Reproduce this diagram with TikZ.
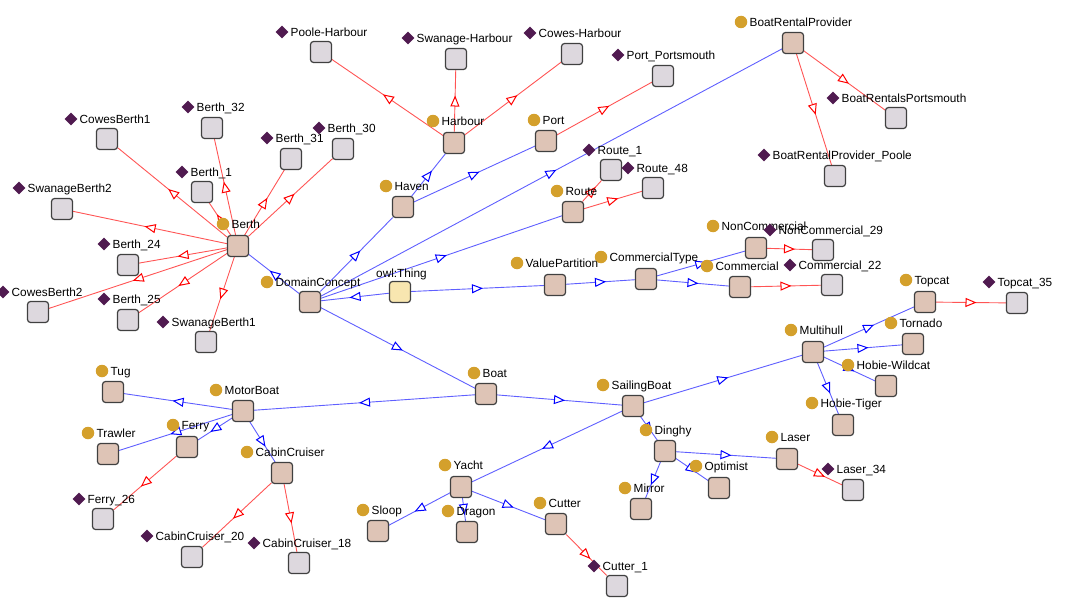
\documentclass[tikz,border=0pt]{standalone}
\usepackage{fontspec}
\setmainfont{Liberation Sans}
\usetikzlibrary{arrows.meta,shapes.geometric,decorations.markings}

\definecolor{classfill}{RGB}{222,196,182}
\definecolor{indivfill}{RGB}{221,216,222}
\definecolor{thingfill}{RGB}{248,230,176}
\definecolor{boxborder}{RGB}{64,64,64}
\definecolor{clsgold}{RGB}{212,160,44}
\definecolor{indpurple}{RGB}{80,26,80}
\definecolor{isaline}{RGB}{95,95,255}
\definecolor{isatip}{RGB}{0,0,255}
\definecolor{instline}{RGB}{255,85,85}
\definecolor{insttip}{RGB}{255,0,0}

\pgfdeclarelayer{background}
\pgfsetlayers{background,main}

\tikzset{
  classbox/.style={draw=boxborder, line width=1.2pt, fill=classfill,
    rounded corners=3pt, minimum size=21pt, inner sep=0pt, outer sep=0pt},
  indivbox/.style={classbox, fill=indivfill},
  thingbox/.style={classbox, fill=thingfill},
  clsicon/.style={circle, fill=clsgold, minimum size=12.5pt, inner sep=0pt},
  indicon/.style={diamond, fill=indpurple, minimum width=13pt, minimum height=13pt, inner sep=0pt},
  lbl/.style={anchor=base west, inner sep=0pt, font=\fontsize{11.8}{14}\selectfont},
  isa/.style={draw=isaline, line width=0.9pt,
    decoration={markings, mark=at position 0.5 with
      {\arrow[xshift=5.5pt, line width=1pt]{Triangle[color=isatip, fill=white, length=11pt, width=9pt]}}},
    postaction={decorate}},
  inst/.style={draw=instline, line width=0.9pt,
    decoration={markings, mark=at position 0.5 with
      {\arrow[xshift=5.5pt, line width=1pt]{Triangle[color=insttip, fill=white, length=11pt, width=9pt]}}},
    postaction={decorate}},
}

% #1 name, #2/#3 box centre, #4 label, #5/#6 icon centre
\newcommand\ontoclass[6]{%
  \node[classbox] (#1) at (#2,#3) {};
  \node[clsicon] (#1i) at (#5,#6) {};
  \node[lbl, xshift=8.5pt, yshift=-4.2pt] (#1l) at (#5,#6) {#4};
}
\newcommand\ontoindiv[6]{%
  \node[indivbox] (#1) at (#2,#3) {};
  \node[indicon] (#1i) at (#5,#6) {};
  \node[lbl, xshift=8.5pt, yshift=-4.2pt] (#1l) at (#5,#6) {#4};
}

\begin{document}
\begin{tikzpicture}[x=1pt, y=-1pt]
\useasboundingbox (0,0) rectangle (1082,602);

% root
\node[thingbox] (Thing) at (400,292) {};
\node[lbl] (Thingl) at (376,277) {owl:Thing};

% classes
\ontoclass{DomainConcept}{310}{302}{DomainConcept}{267}{282}
\ontoclass{Berth}{238}{246}{Berth}{223}{224}
\ontoclass{Haven}{403}{207}{Haven}{386}{186}
\ontoclass{Harbour}{454}{143}{Harbour}{433}{121}
\ontoclass{Port}{546}{141}{Port}{534}{120}
\ontoclass{Route}{573}{212}{Route}{557}{191}
\ontoclass{BoatRentalProvider}{793}{43}{BoatRentalProvider}{741}{22}
\ontoclass{ValuePartition}{555}{285}{ValuePartition}{517}{263}
\ontoclass{CommercialType}{646}{279}{CommercialType}{601}{257}
\ontoclass{NonCommercial}{756}{248}{NonCommercial}{713}{226}
\ontoclass{Commercial}{740}{287}{Commercial}{707}{266}
\ontoclass{Boat}{486}{394}{Boat}{474}{373}
\ontoclass{MotorBoat}{243}{411}{MotorBoat}{216}{390}
\ontoclass{SailingBoat}{633}{406}{SailingBoat}{603}{385}
\ontoclass{Tug}{113}{392}{Tug}{102}{371}
\ontoclass{Ferry}{187}{447}{Ferry}{173}{425}
\ontoclass{Trawler}{108}{454}{Trawler}{88}{433}
\ontoclass{CabinCruiser}{282}{473}{CabinCruiser}{247}{452}
\ontoclass{Multihull}{813}{352}{Multihull}{791}{330}
\ontoclass{Topcat}{925}{302}{Topcat}{906}{280}
\ontoclass{Tornado}{913}{344}{Tornado}{891}{323}
\ontoclass{HobieWildcat}{886}{386}{Hobie-Wildcat}{848}{365}
\ontoclass{HobieTiger}{843}{425}{Hobie-Tiger}{812}{403}
\ontoclass{Yacht}{461}{487}{Yacht}{445}{465}
\ontoclass{Sloop}{378}{531}{Sloop}{363}{510}
\ontoclass{Dragon}{467}{532}{Dragon}{448}{511}
\ontoclass{Cutter}{556}{524}{Cutter}{540}{503}
\ontoclass{Dinghy}{665}{451}{Dinghy}{646}{430}
\ontoclass{Laser}{787}{459}{Laser}{772}{437}
\ontoclass{Optimist}{719}{488}{Optimist}{696}{466}
\ontoclass{Mirror}{641}{509}{Mirror}{625}{488}

% individuals
\ontoindiv{PooleHarbour}{321}{52}{Poole-Harbour}{282}{32}
\ontoindiv{SwanageHarbour}{456}{59}{Swanage-Harbour}{408}{38}
\ontoindiv{CowesHarbour}{572}{54}{Cowes-Harbour}{530}{33}
\ontoindiv{PortPortsmouth}{663}{76}{Port\_Portsmouth}{618}{55}
\ontoindiv{BoatRentalsPortsmouth}{896}{118}{BoatRentalsPortsmouth}{833}{98}
\ontoindiv{BoatRentalProviderPoole}{835}{176}{BoatRentalProvider\_Poole}{764}{155}
\ontoindiv{CowesBerthA}{107}{139}{CowesBerth1}{71}{119}
\ontoindiv{BerthXXXII}{212}{128}{Berth\_32}{188}{107}
\ontoindiv{BerthXXXI}{291}{159}{Berth\_31}{267}{138}
\ontoindiv{BerthXXX}{343}{149}{Berth\_30}{319}{128}
\ontoindiv{BerthI}{202}{192}{Berth\_1}{182}{172}
\ontoindiv{SwanageBerthB}{62}{209}{SwanageBerth2}{19}{188}
\ontoindiv{BerthXXIV}{128}{265}{Berth\_24}{104}{244}
\ontoindiv{CowesBerthB}{38}{312}{CowesBerth2}{3}{292}
\ontoindiv{BerthXXV}{128}{320}{Berth\_25}{104}{299}
\ontoindiv{SwanageBerthA}{206}{342}{SwanageBerth1}{163}{322}
\ontoindiv{RouteI}{611}{170}{Route\_1}{589}{150}
\ontoindiv{RouteXLVIII}{653}{188}{Route\_48}{628}{168}
\ontoindiv{NonCommercialXXIX}{823}{250}{NonCommercial\_29}{770}{230}
\ontoindiv{CommercialXXII}{832}{285}{Commercial\_22}{790}{265}
\ontoindiv{TopcatXXXV}{1017}{303}{Topcat\_35}{989}{282}
\ontoindiv{LaserXXXIV}{853}{490}{Laser\_34}{828}{469}
\ontoindiv{FerryXXVI}{103}{519}{Ferry\_26}{79}{499}
\ontoindiv{CabinCruiserXX}{192}{557}{CabinCruiser\_20}{147}{536}
\ontoindiv{CabinCruiserXVIII}{299}{563}{CabinCruiser\_18}{254}{543}
\ontoindiv{CutterI}{617}{586}{Cutter\_1}{594}{566}

\begin{pgfonlayer}{background}
% subclass links
\foreach \a/\b in {Thing/DomainConcept, Thing/ValuePartition,
    ValuePartition/CommercialType, CommercialType/NonCommercial,
    CommercialType/Commercial, DomainConcept/Berth, DomainConcept/Haven,
    Haven/Harbour, Haven/Port, DomainConcept/BoatRentalProvider,
    DomainConcept/Route, DomainConcept/Boat, Boat/MotorBoat, Boat/SailingBoat,
    MotorBoat/Tug, MotorBoat/Trawler, MotorBoat/Ferry, MotorBoat/CabinCruiser,
    SailingBoat/Multihull, SailingBoat/Yacht, SailingBoat/Dinghy,
    Multihull/Topcat, Multihull/Tornado, Multihull/HobieWildcat,
    Multihull/HobieTiger, Yacht/Sloop, Yacht/Dragon, Yacht/Cutter,
    Dinghy/Laser, Dinghy/Optimist, Dinghy/Mirror}
  \draw[isa] (\a) -- (\b);
% instance links
\foreach \a/\b in {Harbour/PooleHarbour, Harbour/SwanageHarbour,
    Harbour/CowesHarbour, Port/PortPortsmouth,
    BoatRentalProvider/BoatRentalsPortsmouth,
    BoatRentalProvider/BoatRentalProviderPoole,
    Berth/CowesBerthA, Berth/BerthXXXII, Berth/BerthXXXI, Berth/BerthXXX,
    Berth/BerthI, Berth/SwanageBerthB, Berth/BerthXXIV, Berth/CowesBerthB,
    Berth/BerthXXV, Berth/SwanageBerthA, Route/RouteI, Route/RouteXLVIII,
    NonCommercial/NonCommercialXXIX, Commercial/CommercialXXII,
    Topcat/TopcatXXXV, Laser/LaserXXXIV, Ferry/FerryXXVI,
    CabinCruiser/CabinCruiserXX, CabinCruiser/CabinCruiserXVIII,
    Cutter/CutterI}
  \draw[inst] (\a) -- (\b);
\end{pgfonlayer}
\end{tikzpicture}
\end{document}
